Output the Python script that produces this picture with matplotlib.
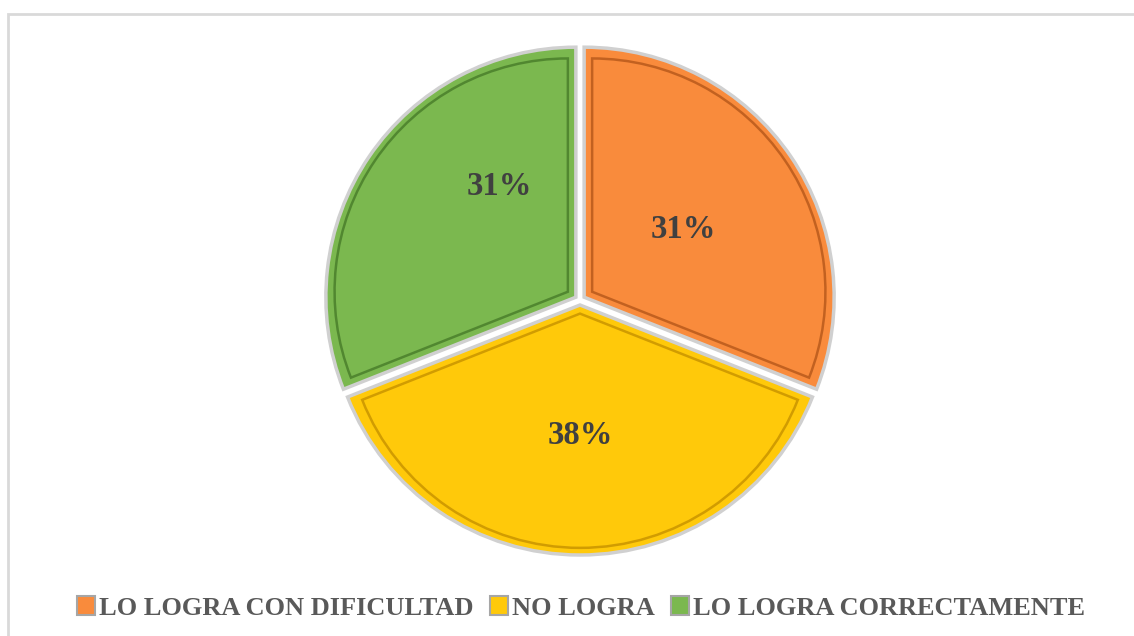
# -*- coding: utf-8 -*-
"""Gráfico circular: nivel de logro (tres categorías)."""

import matplotlib
matplotlib.use("Agg")
import matplotlib.pyplot as plt
from matplotlib.patches import Rectangle, Wedge
import numpy as np

plt.rcParams.update({
    "font.family": ["Liberation Serif", "DejaVu Serif"],
    "font.weight": "bold",
})

# ── datos ─────────────────────────────────────────────
categorias = ["LO LOGRA CON DIFICULTAD", "NO LOGRA", "LO LOGRA CORRECTAMENTE"]
porcentajes = [31, 38, 31]
etiquetas = ["31%", "38%", "31%"]

colores = ["#F98B3C", "#FFC90A", "#7BB84F"]
bordes_int = ["#B95A1C", "#C99400", "#4A7F2B"]

W, H = 1134, 636
fig = plt.figure(figsize=(W / 100, H / 100), dpi=100)
ax = fig.add_axes([0, 0, 1, 1])

centro = (580, H - 300)
radio = 250
explode = [5, 5, 5]   # en píxeles (unidades de datos)

wedges, _ = ax.pie(
    porcentajes, colors=colores, startangle=90, counterclock=False,
    center=centro, radius=radio, explode=explode,
    wedgeprops={"edgecolor": "#D0D0D0", "linewidth": 2.5},
)
# pie() fija sus propios límites: volver a coordenadas de píxel
ax.set_xlim(0, W)
ax.set_ylim(0, H)
ax.set_aspect("equal")
ax.axis("off")

# marco del área del gráfico (solo se ven borde superior e izquierdo)
ax.add_patch(Rectangle((7.5, -10), W + 20, H - 13.5 + 10, fill=False,
                       edgecolor="#D9D9D9", linewidth=2))

# bisel interior: cuña reducida hacia dentro
inset = 8
for w, c in zip(wedges, bordes_int):
    mid = np.deg2rad((w.theta1 + w.theta2) / 2)
    half = np.deg2rad((w.theta2 - w.theta1) / 2)
    s = inset / np.sin(half)
    cx = w.center[0] + s * np.cos(mid)
    cy = w.center[1] + s * np.sin(mid)
    ax.add_patch(Wedge((cx, cy), w.r - inset - s * 0.9, w.theta1, w.theta2,
                       facecolor="none", edgecolor=c, linewidth=1.8, alpha=0.85))

# posición de etiquetas (ángulo medio, fracción de radio) con ajuste
ajuste_ang = [0, 0, -21]
dist = [0.48, 0.52, 0.54]
for w, txt, da, d in zip(wedges, etiquetas, ajuste_ang, dist):
    ang = np.deg2rad((w.theta1 + w.theta2) / 2 + da)
    x = w.center[0] + d * w.r * np.cos(ang)
    y = w.center[1] + d * w.r * np.sin(ang)
    ax.text(x, y, txt, ha="center", va="center", fontsize=23.5,
            fontweight="bold", color="#404040")

handles = [Rectangle((0, 0), 1, 1, facecolor=c, edgecolor="#A6A6A6", linewidth=1.5)
           for c in colores]
leg = fig.legend(handles, categorias, loc="center", ncol=3,
                 bbox_to_anchor=(581 / W, 1 - 608 / H), frameon=False,
                 handlelength=0.7, handleheight=0.7,
                 handletextpad=0.15, columnspacing=0.6,
                 prop={"weight": "bold", "size": 19})
for t in leg.get_texts():
    t.set_color("#595959")

fig.savefig("out.png", dpi=100)
